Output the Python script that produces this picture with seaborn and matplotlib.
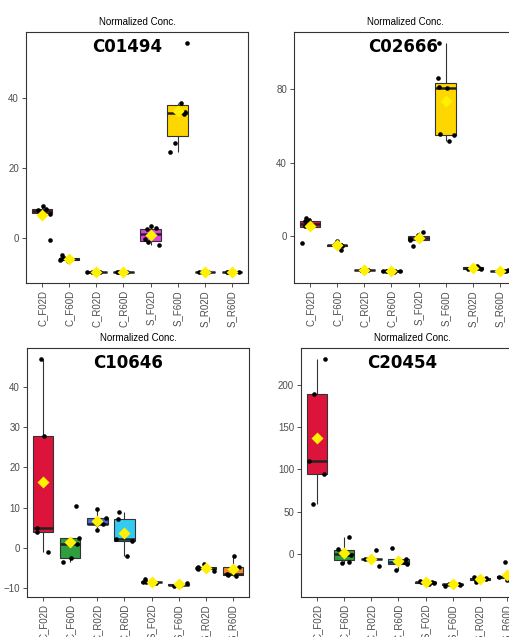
import numpy as np
import pandas as pd
import matplotlib
matplotlib.use("Agg")
import matplotlib.pyplot as plt
import seaborn as sns

# gruppi e colori
groups = ["C_F02D", "C_F60D", "C_R02D", "C_R60D", "S_F02D", "S_F60D", "S_R02D", "S_R60D"]
colors = ["#DC143C", "#2E9E3E", "#4169E1", "#33CCF0", "#E040E0", "#FFD700", "#7F7F7F", "#F08A24"]

# valori (una lista per gruppo)
c01494 = [[9.3, 8.4, 8.0, 7.5, 7.0, -0.6],
          [-4.8, -5.5, -5.8, -6.0, -6.2, -6.5],
          [-9.5, -9.5, -9.5, -9.5, -9.5, -9.5],
          [-9.5, -9.5, -9.5, -9.5, -9.5, -9.5],
          [3.5, 2.8, 2.6, -0.3, -1.0, -2.0],
          [55.5, 38.5, 36.0, 35.5, 27.0, 24.7],
          [-9.5, -9.5, -9.5, -9.5, -9.5, -9.5],
          [-9.5, -9.5, -9.5, -9.5, -9.5, -9.5]]
c02666 = [[10.0, 8.6, 8.0, 5.5, 5.0, -3.8],
          [-2.5, -4.5, -5.0, -5.2, -7.5, -5.0],
          [-18.2, -18.5, -18.6, -18.4, -18.3, -18.7],
          [-19.0, -19.2, -19.1, -18.9, -19.0, -19.3],
          [2.0, 0.5, -0.8, -1.5, -2.0, -5.5],
          [105.0, 86.0, 81.0, 80.5, 55.5, 55.0, 52.0],
          [-17.0, -17.5, -18.0, -17.8, -17.2, -16.5],
          [-18.6, -18.8, -19.0, -18.9, -18.7, -19.1]]
c10646 = [[47.0, 27.8, 4.8, 3.8, -1.0],
          [10.3, 2.5, 0.8, -2.5, -3.5],
          [9.7, 7.4, 6.0, 5.8, 4.5],
          [8.9, 7.2, 2.2, 1.6, -2.2],
          [-7.8, -8.5, -8.7, -8.6, -8.8],
          [-9.0, -9.3, -9.5, -9.4, -8.8],
          [-4.0, -4.8, -5.0, -5.3, -5.8],
          [-2.0, -4.8, -6.5, -6.8, -7.0]]
c20454 = [[230.0, 189.0, 110.0, 95.0, 59.0],
          [20.4, 5.5, 0.0, -1.0, -9.0, -11.0],
          [5.2, -5.5, -6.0, -6.5, -14.5],
          [7.5, -6.0, -10.0, -12.0, -19.5],
          [-32.0, -33.0, -33.5, -34.0, -35.0],
          [-34.0, -35.5, -36.0, -37.0, -37.5],
          [-27.0, -29.0, -30.0, -31.0, -33.0],
          [-10.0, -26.0, -27.0, -28.0, -31.0]]

names = ["C01494", "C02666", "C10646", "C20454"]
yticks = [[0, 20, 40], [0, 40, 80], [-10, 0, 10, 20, 30, 40], [0, 50, 100, 150, 200]]

sns.set_style("white")
plt.rcParams["font.family"] = ["Liberation Sans", "DejaVu Sans"]
np.random.seed(3)

W, H = 509, 637
fig = plt.figure(figsize=(W / 100, H / 100), dpi=100)

# posizioni pannelli in pixel: left, top, width, height
boxes = [(26, 32, 222, 251), (294, 32, 222, 251), (27, 348, 222, 249), (301, 348, 222, 249)]
label_x = [0.455, 0.49, 0.455, 0.455]

for i, vals in enumerate([c01494, c02666, c10646, c20454]):
    l, t, w, h = boxes[i]
    ax = fig.add_axes([l / W, 1 - (t + h) / H, w / W, h / H])

    df = pd.DataFrame({
        "group": [g for g, v in zip(groups, vals) for _ in v],
        "value": [x for v in vals for x in v],
    })

    sns.boxplot(data=df, x="group", y="value", hue="group", order=groups,
                hue_order=groups, palette=colors, saturation=1, width=0.75,
                linecolor="#333333", linewidth=0.8, showfliers=False,
                showcaps=False, legend=False, ax=ax,
                medianprops=dict(color="#222222", linewidth=1.8))
    sns.stripplot(data=df, x="group", y="value", order=groups, color="black",
                  size=3.3, jitter=0.35, zorder=3, ax=ax)
    sns.pointplot(data=df, x="group", y="value", order=groups, estimator="mean",
                  errorbar=None, linestyle="none", marker="D", color="#FFF000",
                  markersize=3.6, zorder=4, ax=ax)

    # espansione 5% come ggplot
    lo, hi = df["value"].min(), df["value"].max()
    pad = 0.05 * (hi - lo)
    ax.set_ylim(lo - pad, hi + pad)
    ax.set_xlim(-0.6, 7.6)
    ax.set_yticks(yticks[i])
    ax.set_xticks(range(len(groups)))
    ax.set_xticklabels(groups, rotation=90)
    ax.set_xlabel("")
    ax.set_ylabel("")
    ax.set_title("Normalized Conc.", fontsize=7, pad=5, color="black")
    ax.text(label_x[i], 0.94, names[i], transform=ax.transAxes, ha="center",
            va="center", fontsize=12, fontweight="bold", family="DejaVu Sans",
            color="black")

    for s in ax.spines.values():
        s.set_visible(True)
        s.set_color("#333333")
        s.set_linewidth(0.8)
    ax.tick_params(direction="out", length=3, width=0.6, color="#333333",
                   labelcolor="#4d4d4d", labelsize=7, pad=2)
    ax.tick_params(axis="x", bottom=True)
    ax.tick_params(axis="y", left=True)
    ax.grid(False)

fig.savefig("out.png", dpi=100)
